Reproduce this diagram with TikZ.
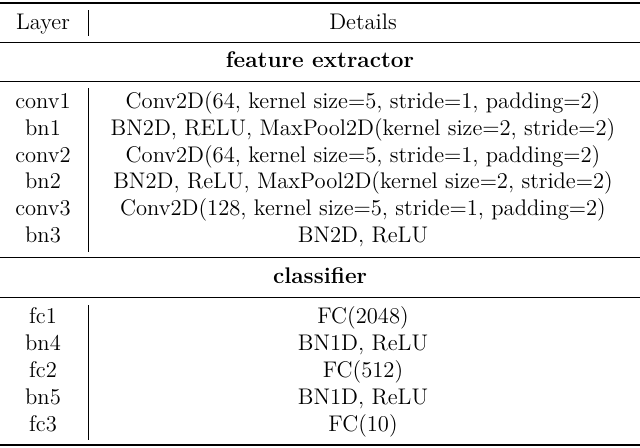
\documentclass[tikz,border=0pt]{standalone}
\begin{document}
\begin{tikzpicture}[x=0.5pt,y=-0.5pt,
  cell/.style={anchor=base,inner sep=0pt,font=\fontsize{11.3}{13.5}\selectfont},
  rule/.style={line width=0.5pt},
  thickrule/.style={line width=0.8pt},
  vline/.style={line width=0.4pt}]
\useasboundingbox (0,0) rectangle (640,447);
\draw[thickrule] (0,3) coordinate (t0) -- (640,3) coordinate (t1);
\node[cell] (hl) at (43,29) {Layer};
\node[cell] (hd) at (363,29) {Details};
\draw[vline] (88,10) coordinate (v0) -- (88,36) coordinate (v1);
\draw[rule] (0,42) coordinate (r0) -- (640,42) coordinate (r1);
\node[cell] (fe) at (320,67) {\textbf{feature extractor}};
\draw[rule] (0,81) coordinate (r2) -- (640,81) coordinate (r3);
\foreach \n/\l/\d/\y in {a/conv1/{Conv2D(64, kernel size=5, stride=1, padding=2)}/108,
  b/bn1/{BN2D, RELU, MaxPool2D(kernel size=2, stride=2)}/135,
  c/conv2/{Conv2D(64, kernel size=5, stride=1, padding=2)}/162,
  d/bn2/{BN2D, ReLU, MaxPool2D(kernel size=2, stride=2)}/188,
  e/conv3/{Conv2D(128, kernel size=5, stride=1, padding=2)}/215,
  f/bn3/{BN2D, ReLU}/242,
  g/fc1/{FC(2048)}/323,
  h/bn4/{BN1D, ReLU}/350,
  i/fc2/{FC(512)}/377,
  j/bn5/{BN1D, ReLU}/404,
  k/fc3/{FC(10)}/431}{
  \node[cell] (l\n) at (43,\y) {\l};
  \node[cell] (d\n) at (363,\y) {\d};
}
\draw[vline] (88,88) coordinate (v2) -- (88,252) coordinate (v3);
\draw[rule] (0,257) coordinate (r4) -- (640,257) coordinate (r5);
\node[cell] (cl) at (320,283) {\textbf{classifier}};
\draw[rule] (0,297) coordinate (r6) -- (640,297) coordinate (r7);
\draw[vline] (88,305) coordinate (v4) -- (88,440) coordinate (v5);
\draw[thickrule] (0,445) coordinate (b0) -- (640,445) coordinate (b1);
\end{tikzpicture}
\end{document}
